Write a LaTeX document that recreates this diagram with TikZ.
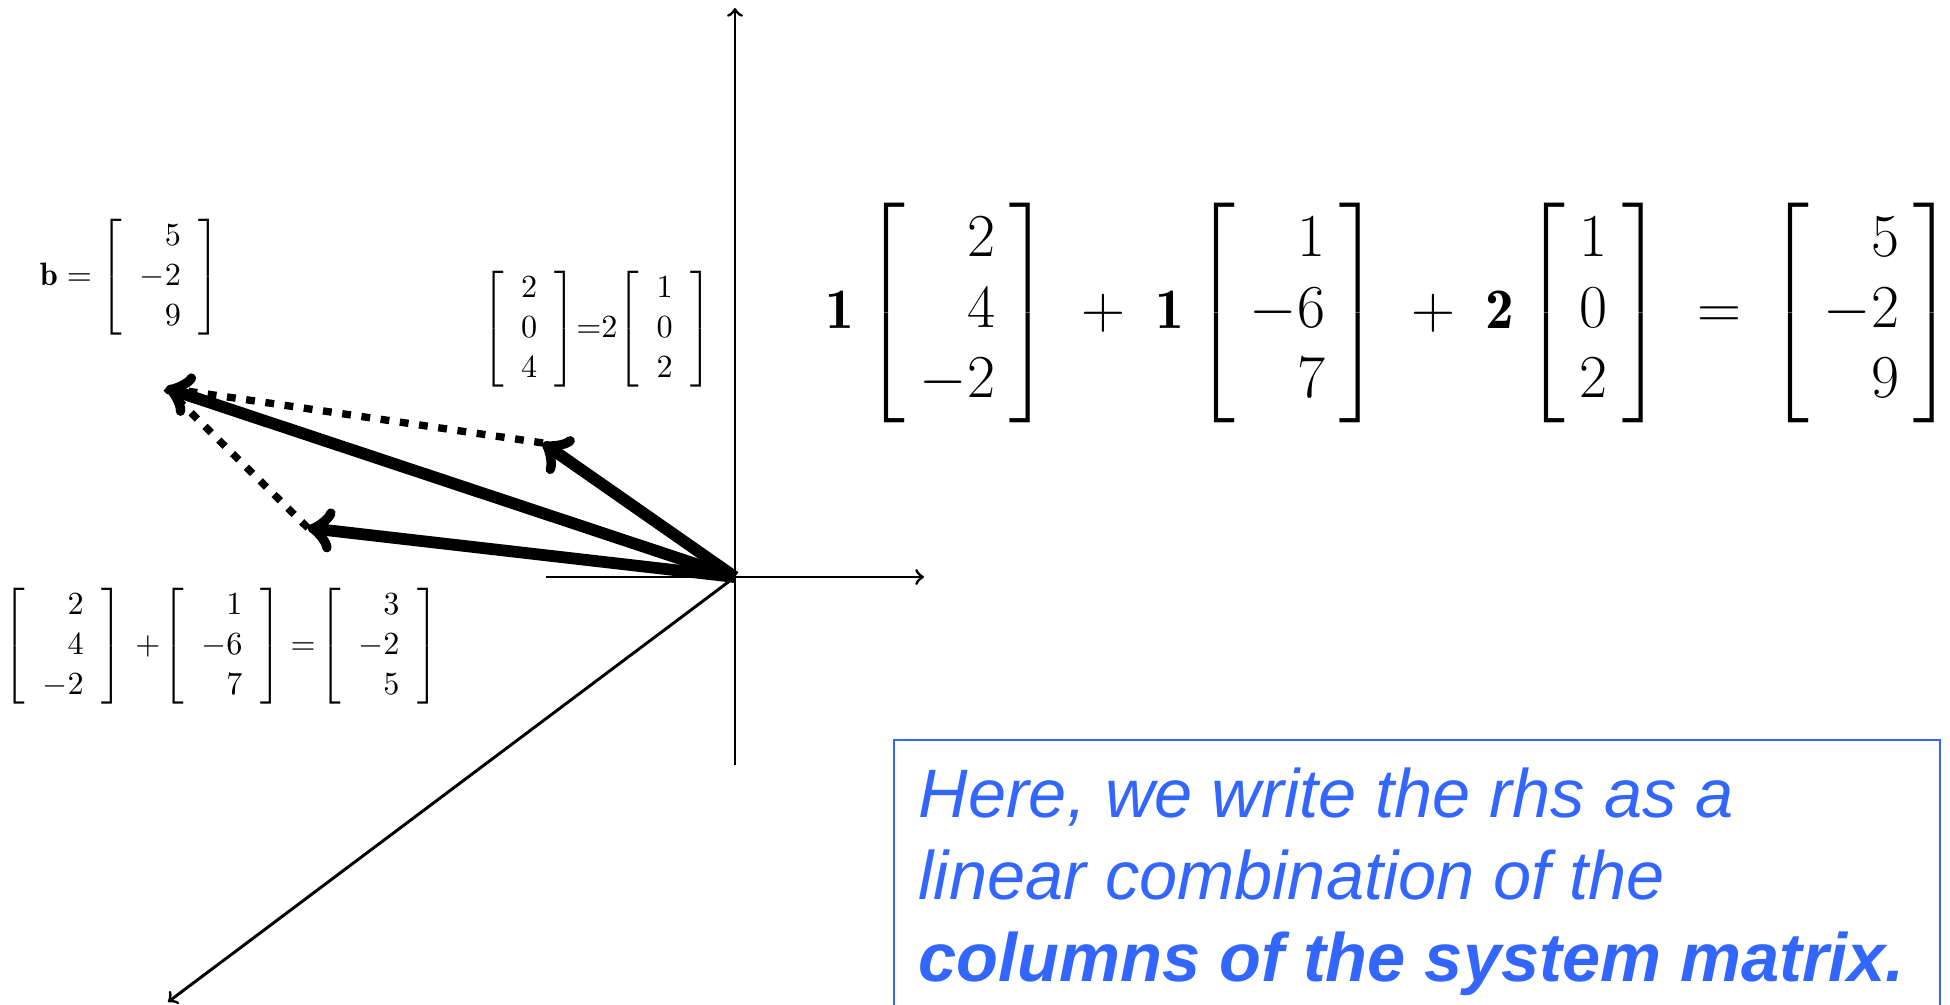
\documentclass[tikz,border=0pt]{standalone}
\usepackage{amsmath}
\usepackage{fontspec}
\newfontfamily\notefont{Liberation Sans}
\definecolor{noteblue}{RGB}{51,102,255}
\newcommand{\colvec}[3]{\left[\begin{array}{r}#1\\#2\\#3\end{array}\right]}

\begin{document}
\begin{tikzpicture}[x=0.34pt,y=-0.34pt,
    axis/.style={line width=1pt,->},
    vec/.style={line width=4pt,->},
    guide/.style={line width=2.5pt,dash pattern=on 3pt off 3.6pt},
    small/.style={font=\fontsize{11}{13.6}\selectfont,inner sep=0pt,
      execute at begin node={\setlength{\arraycolsep}{6pt}}},
    big/.style={font=\fontsize{19.5}{24}\selectfont,inner sep=0pt},
    note/.style={font=\notefont\itshape\fontsize{23.3}{27.9}\selectfont,
      text=noteblue,align=left,inner sep=0pt}]
\useasboundingbox (0,0) rectangle (1950,1005);
% axes
\coordinate (O) at (735,577);
\coordinate (ztop) at (735,8);
\coordinate (zbot) at (735,765);
\coordinate (yleft) at (546,577);
\coordinate (yright) at (924,577);
\coordinate (xend) at (168,1002);
\draw[axis] (zbot) -- (ztop);
\draw[axis] (yleft) -- (yright);
\draw[axis] (O) -- (xend);
% vectors
\coordinate (b) at (166,388);
\coordinate (c2) at (543,443);
\coordinate (s12) at (308,528);
\draw[guide] (c2) -- (b);
\draw[guide] (s12) -- (b);
\draw[vec] (O) -- (b);
\draw[vec] (O) -- (c2);
\draw[vec] (O) -- (s12);
% labels
\node[small] (blabel) at (130,277) {$\mathbf{b}=\colvec{5}{-2}{9}$};
\node[small] (scaled) at (597,329) {${\colvec{2}{0}{4}}{=}2{\colvec{1}{0}{2}}$};
\node[small] (sum) at (221,646)
  {$\colvec{2}{4}{-2}\,+\!\colvec{1}{-6}{7}=\!\colvec{3}{-2}{5}$};
\node[big] (combo) at (1390,313)
  {$\mathbf{1}\colvec{2}{4}{-2}\;+\;\mathbf{1}\colvec{1}{-6}{7}\;+\;\mathbf{2}\colvec{1}{0}{2}\ =\,\colvec{5}{-2}{9}$};
% note
\draw[noteblue,line width=0.7pt] (894,740) rectangle (1940,1030);
\node[note,anchor=north west] (text) at (918,767)
  {Here, we write the rhs as a\\linear combination of the\\\textbf{columns of the system matrix.}};
\end{tikzpicture}
\end{document}
